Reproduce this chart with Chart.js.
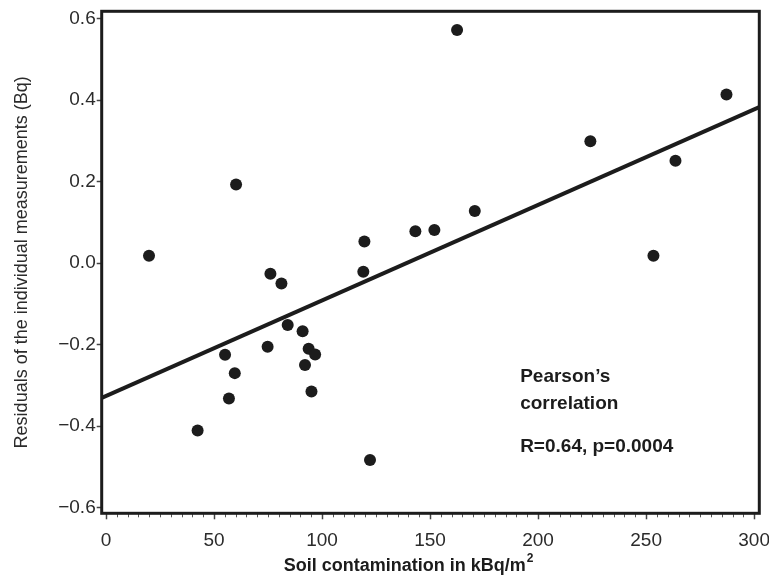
<!DOCTYPE html>
<html>
<head>
<meta charset="utf-8">
<title>Residuals vs soil contamination</title>
<script src="https://cdn.jsdelivr.net/npm/chart.js@4.4.1/dist/chart.umd.min.js"></script>
<style>
  html, body { margin: 0; padding: 0; background: #fff; }
</style>
</head>
<body>
<canvas id="chart" width="769" height="585"></canvas>
<script>
// Soil contamination (kBq/m2) and residuals of the individual measurements (Bq)
const soilKBq = [19.9, 42.4, 55.1, 56.9, 59.6, 60.2, 74.8, 76.1, 81.2, 84.1, 91.0, 92.1, 93.8,
                 95.1, 96.8, 119.1, 119.6, 122.2, 143.2, 152.0, 162.5, 170.7, 224.2, 253.4, 263.6, 287.2];
const residualBq = [0.018, -0.411, -0.225, -0.332, -0.270, 0.193, -0.205, -0.026, -0.050, -0.152, -0.167, -0.250, -0.210,
                    -0.315, -0.224, -0.021, 0.053, -0.483, 0.078, 0.081, 0.572, 0.128, 0.299, 0.018, 0.251, 0.414];

// regression line, end points at the frame edges
const fitX = [-2, 302.4];
const fitY = [-0.331, 0.383];

const xTicks = [0, 50, 100, 150, 200, 250, 300];
const yTicks = [-0.6, -0.4, -0.2, 0, 0.2, 0.4, 0.6];
const statLines = ['Pearson\u2019s', 'correlation', 'R=0.64, p=0.0004'];

const FONT = "'Liberation Sans', Arial, Helvetica, sans-serif";
const INK = '#1c1c1c';

// frame, minor ticks, x title and the correlation note
const decorations = {
    id: 'decorations',
    afterDraw(chart) {
        const { ctx, chartArea: a, scales: { x, y } } = chart;
        ctx.save();

        // minor ticks every 5 on the x axis
        ctx.strokeStyle = '#555';
        ctx.lineWidth = 1;
        for (let v = 5; v < 300; v += 5) {
            if (v % 50 === 0) continue;
            const px = Math.round(x.getPixelForValue(v)) + 0.5;
            ctx.beginPath();
            ctx.moveTo(px, a.bottom);
            ctx.lineTo(px, a.bottom + 4);
            ctx.stroke();
        }

        // box round the plot
        ctx.strokeStyle = INK;
        ctx.lineWidth = 3;
        ctx.strokeRect(a.left, a.top, a.right - a.left, a.bottom - a.top);

        // x axis title with superscript
        const main = 'Soil contamination in kBq/m';
        ctx.fillStyle = INK;
        ctx.textBaseline = 'middle';
        ctx.textAlign = 'left';
        ctx.font = 'bold 18px ' + FONT;
        const w1 = ctx.measureText(main).width;
        ctx.font = 'bold 12px ' + FONT;
        const w2 = ctx.measureText('2').width;
        const start = 408 - (w1 + w2) / 2;
        ctx.font = 'bold 18px ' + FONT;
        ctx.fillText(main, start, 566);
        ctx.font = 'bold 12px ' + FONT;
        ctx.fillText('2', start + w1 + 1, 559);

        // Pearson note
        ctx.font = 'bold 19px ' + FONT;
        const noteX = x.getPixelForValue(191.7);
        const noteY = [-0.279, -0.345, -0.451];
        statLines.forEach((t, i) => ctx.fillText(t, noteX, y.getPixelForValue(noteY[i])));

        ctx.restore();
    }
};

const tickFont = { family: FONT, size: 19 };

new Chart(document.getElementById('chart').getContext('2d'), {
    type: 'scatter',
    data: {
        datasets: [
            {
                label: 'Measurements',
                data: soilKBq.map((v, i) => ({ x: v, y: residualBq[i] })),
                backgroundColor: INK,
                borderColor: INK,
                pointRadius: 6,
                pointHoverRadius: 6,
                borderWidth: 0
            },
            {
                type: 'line',
                label: 'Fit',
                data: fitX.map((v, i) => ({ x: v, y: fitY[i] })),
                borderColor: INK,
                borderWidth: 4,
                pointRadius: 0,
                fill: false
            }
        ]
    },
    options: {
        responsive: false,
        devicePixelRatio: 1,
        animation: false,
        layout: { padding: { left: 0, right: 9.7, top: 11.3, bottom: 0 } },
        plugins: {
            legend: { display: false },
            tooltip: { enabled: false }
        },
        scales: {
            x: {
                type: 'linear',
                min: -2,
                max: 302.4,
                afterBuildTicks: s => { s.ticks = xTicks.map(v => ({ value: v })); },
                afterFit: s => { s.height = 585 - 513.3; s.paddingLeft = 0; s.paddingRight = 0; },
                grid: { drawOnChartArea: false, drawTicks: true, tickLength: 6, tickWidth: 1.5, tickColor: '#444' },
                border: { display: false },
                ticks: { font: tickFont, color: '#2b2b2b', padding: 10, maxRotation: 0, autoSkip: false,
                         callback: v => String(v) }
            },
            y: {
                type: 'linear',
                min: -0.614,
                max: 0.618,
                afterBuildTicks: s => { s.ticks = yTicks.map(v => ({ value: v })); },
                afterFit: s => { s.width = 101.7; s.paddingTop = 0; s.paddingBottom = 0; },
                grid: { drawOnChartArea: false, drawTicks: true, tickLength: 5, tickWidth: 1.5, tickColor: '#444' },
                border: { display: false },
                ticks: { font: tickFont, color: '#2b2b2b', padding: 1,
                         callback: v => v.toFixed(1).replace('-', '\u2212') },
                title: {
                    display: true,
                    text: 'Residuals of the individual measurements (Bq)',
                    font: { family: FONT, size: 18 },
                    color: '#2b2b2b',
                    padding: { top: 11, bottom: 0 }
                }
            }
        }
    },
    plugins: [decorations]
});
</script>
</body>
</html>
